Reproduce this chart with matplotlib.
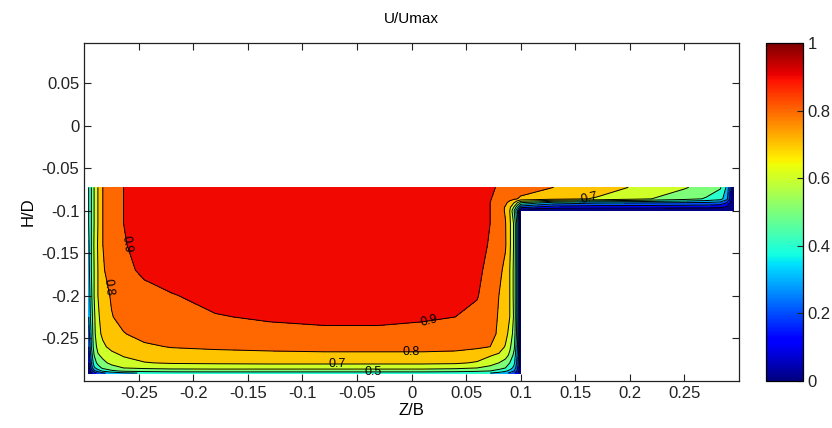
import numpy as np
import matplotlib
matplotlib.use("Agg")
import matplotlib.pyplot as plt
from matplotlib.colors import ListedColormap, Normalize

plt.rcParams['font.family'] = ['Liberation Sans', 'DejaVu Sans']

# lateral positions Z/B (left wall of main channel -> right wall of floodplain)
z_nodes = [-0.296, -0.2935, -0.291, -0.2875, -0.283, -0.275, -0.264, -0.245,
           -0.22, -0.18, -0.13, -0.08, -0.03, 0.01, 0.04, 0.06, 0.072, 0.08,
           0.086, 0.09, 0.094, 0.097, 0.1, 0.13, 0.17, 0.21, 0.25, 0.27,
           0.283, 0.289, 0.295]

# vertical positions H/D (bed of main channel -> free surface)
h_nodes = [-0.291, -0.2885, -0.285, -0.279, -0.27, -0.26, -0.245, -0.225,
           -0.2, -0.17, -0.14, -0.115, -0.1, -0.096, -0.0905, -0.086, -0.0725]

nan = np.nan
fp_dry = [nan] * 8  # below the floodplain level there is no water

# U/Umax, one row per h_nodes entry
u_ratio = [
    [0.02, 0.08, 0.15, 0.22, 0.28, 0.34, 0.38, 0.41, 0.43, 0.44, 0.44, 0.44, 0.44, 0.44, 0.43, 0.42,
     0.40, 0.37, 0.33, 0.28, 0.22, 0.12, 0.02] + fp_dry,
    [0.04, 0.15, 0.27, 0.35, 0.42, 0.48, 0.52, 0.54, 0.55, 0.55, 0.55, 0.55, 0.55, 0.55, 0.54, 0.52,
     0.50, 0.46, 0.42, 0.37, 0.30, 0.18, 0.02] + fp_dry,
    [0.06, 0.25, 0.38, 0.45, 0.52, 0.57, 0.60, 0.615, 0.625, 0.63, 0.63, 0.63, 0.63, 0.63, 0.62, 0.60,
     0.57, 0.54, 0.50, 0.45, 0.37, 0.22, 0.02] + fp_dry,
    [0.10, 0.30, 0.45, 0.53, 0.58, 0.62, 0.66, 0.695, 0.71, 0.715, 0.72, 0.72, 0.72, 0.72, 0.715, 0.69,
     0.64, 0.60, 0.56, 0.50, 0.42, 0.26, 0.02] + fp_dry,
    [0.15, 0.35, 0.50, 0.59, 0.62, 0.67, 0.71, 0.74, 0.76, 0.77, 0.775, 0.78, 0.78, 0.78, 0.775, 0.75,
     0.71, 0.68, 0.64, 0.58, 0.47, 0.28, 0.02] + fp_dry,
    [0.20, 0.40, 0.55, 0.63, 0.68, 0.73, 0.76, 0.785, 0.805, 0.815, 0.825, 0.83, 0.83, 0.83, 0.825, 0.815,
     0.80, 0.77, 0.69, 0.62, 0.52, 0.30, 0.02] + fp_dry,
    [0.25, 0.42, 0.57, 0.67, 0.72, 0.76, 0.795, 0.83, 0.85, 0.865, 0.875, 0.88, 0.88, 0.875, 0.865, 0.85,
     0.82, 0.79, 0.74, 0.66, 0.56, 0.33, 0.02] + fp_dry,
    [0.30, 0.45, 0.58, 0.68, 0.75, 0.795, 0.83, 0.86, 0.88, 0.895, 0.91, 0.92, 0.92, 0.91, 0.90, 0.88,
     0.85, 0.79, 0.75, 0.70, 0.58, 0.35, 0.02] + fp_dry,
    [0.33, 0.48, 0.60, 0.70, 0.76, 0.81, 0.845, 0.875, 0.895, 0.925, 0.94, 0.95, 0.95, 0.95, 0.93, 0.905,
     0.86, 0.80, 0.76, 0.70, 0.57, 0.35, 0.02] + fp_dry,
    [0.36, 0.50, 0.60, 0.70, 0.79, 0.84, 0.88, 0.915, 0.94, 0.96, 0.97, 0.97, 0.97, 0.965, 0.94, 0.915,
     0.88, 0.825, 0.775, 0.70, 0.57, 0.35, 0.02] + fp_dry,
    [0.38, 0.50, 0.61, 0.71, 0.80, 0.86, 0.895, 0.925, 0.95, 0.97, 0.98, 0.98, 0.98, 0.97, 0.945, 0.92,
     0.895, 0.86, 0.81, 0.72, 0.58, 0.35, 0.02] + fp_dry,
    [0.40, 0.50, 0.60, 0.70, 0.80, 0.86, 0.90, 0.93, 0.955, 0.975, 0.985, 0.99, 0.99, 0.975, 0.95, 0.925,
     0.90, 0.85, 0.805, 0.72, 0.58, 0.35, 0.02] + fp_dry,
    [0.40, 0.50, 0.60, 0.70, 0.80, 0.86, 0.90, 0.93, 0.955, 0.975, 0.985, 0.99, 0.99, 0.975, 0.95, 0.92,
     0.90, 0.85, 0.79, 0.70, 0.50, 0.30, 0.00, 0.00, 0.00, 0.00, 0.00, 0.00, 0.00, 0.00, 0.00],
    [0.40, 0.50, 0.60, 0.70, 0.80, 0.86, 0.90, 0.93, 0.955, 0.975, 0.985, 0.99, 0.99, 0.975, 0.95, 0.92,
     0.90, 0.855, 0.79, 0.72, 0.58, 0.42, 0.22, 0.14, 0.13, 0.13, 0.12, 0.12, 0.11, 0.08, 0.00],
    [0.40, 0.50, 0.60, 0.70, 0.80, 0.86, 0.90, 0.93, 0.96, 0.975, 0.985, 0.99, 0.99, 0.98, 0.955, 0.925,
     0.90, 0.86, 0.82, 0.77, 0.70, 0.60, 0.50, 0.36, 0.32, 0.31, 0.30, 0.29, 0.27, 0.20, 0.01],
    [0.40, 0.50, 0.60, 0.70, 0.80, 0.86, 0.90, 0.93, 0.96, 0.975, 0.985, 0.99, 0.99, 0.98, 0.96, 0.93,
     0.905, 0.87, 0.85, 0.83, 0.815, 0.80, 0.78, 0.74, 0.69, 0.62, 0.54, 0.49, 0.44, 0.33, 0.02],
    [0.40, 0.50, 0.60, 0.70, 0.80, 0.86, 0.90, 0.93, 0.96, 0.975, 0.985, 0.99, 0.99, 0.98, 0.96, 0.935,
     0.915, 0.89, 0.88, 0.875, 0.87, 0.865, 0.86, 0.80, 0.75, 0.68, 0.61, 0.56, 0.51, 0.38, 0.02],
]

levels = [0.0, 0.1, 0.2, 0.3, 0.4, 0.5, 0.6, 0.7, 0.8, 0.9, 1.0]
x_ticks = [-0.25, -0.2, -0.15, -0.1, -0.05, 0, 0.05, 0.1, 0.15, 0.2, 0.25]
y_ticks = [-0.25, -0.2, -0.15, -0.1, -0.05, 0, 0.05]
cbar_ticks = [0, 0.2, 0.4, 0.6, 0.8, 1]

# where the contour labels sit
label_spots = [(-0.262, -0.14), (0.016, -0.229), (0.0, -0.267), (-0.068, -0.281),
               (-0.281, -0.19), (0.163, -0.086), (-0.035, -0.2895)]

Z, H = np.meshgrid(z_nodes, h_nodes)
U = np.ma.masked_invalid(np.array(u_ratio))

jet = plt.get_cmap('jet')
# like matlab: each band gets the colour of its lower level
band_cmap = ListedColormap([jet(v) for v in levels[:-1]])

fig = plt.figure(figsize=(8.32, 4.28), dpi=100)
ax = fig.add_axes([0.1013, 0.1105, 0.7868, 0.7893])

ax.contourf(Z, H, U, levels=levels, cmap=band_cmap, vmin=0, vmax=1, corner_mask=False)
cs = ax.contour(Z, H, U, levels=levels[1:-1], colors='k', linewidths=0.7, corner_mask=False)
ax.clabel(cs, manual=label_spots, inline=False, fontsize=9, colors='k', fmt='%g')

ax.set_xlim(-0.3, 0.3)
ax.set_ylim(-0.3, 0.0975)
ax.set_xticks(x_ticks)
ax.set_xticklabels(['%g' % t for t in x_ticks])
ax.set_yticks(y_ticks)
ax.set_yticklabels(['%g' % t for t in y_ticks])
ax.tick_params(direction='in', top=True, right=True, length=5, labelsize=12,
               colors='#222222', labelcolor='#222222')
for sp in ax.spines.values():
    sp.set_linewidth(0.9)
    sp.set_color('#222222')

ax.set_title('U/Umax', fontsize=11, pad=14)
ax.set_xlabel('Z/B', fontsize=12, labelpad=2)
ax.set_ylabel('H/D', fontsize=12, labelpad=4)

cax = fig.add_axes([766 / 832, 1 - 381 / 428, 37 / 832, 338 / 428])
sm = plt.cm.ScalarMappable(norm=Normalize(0, 1), cmap=jet)
cb = fig.colorbar(sm, cax=cax, ticks=cbar_ticks)
cb.ax.set_yticklabels(['%g' % t for t in cbar_ticks])
cb.ax.tick_params(direction='in', length=4, labelsize=12, colors='#222222')
cb.outline.set_linewidth(0.9)

fig.savefig('out.png', dpi=100)
